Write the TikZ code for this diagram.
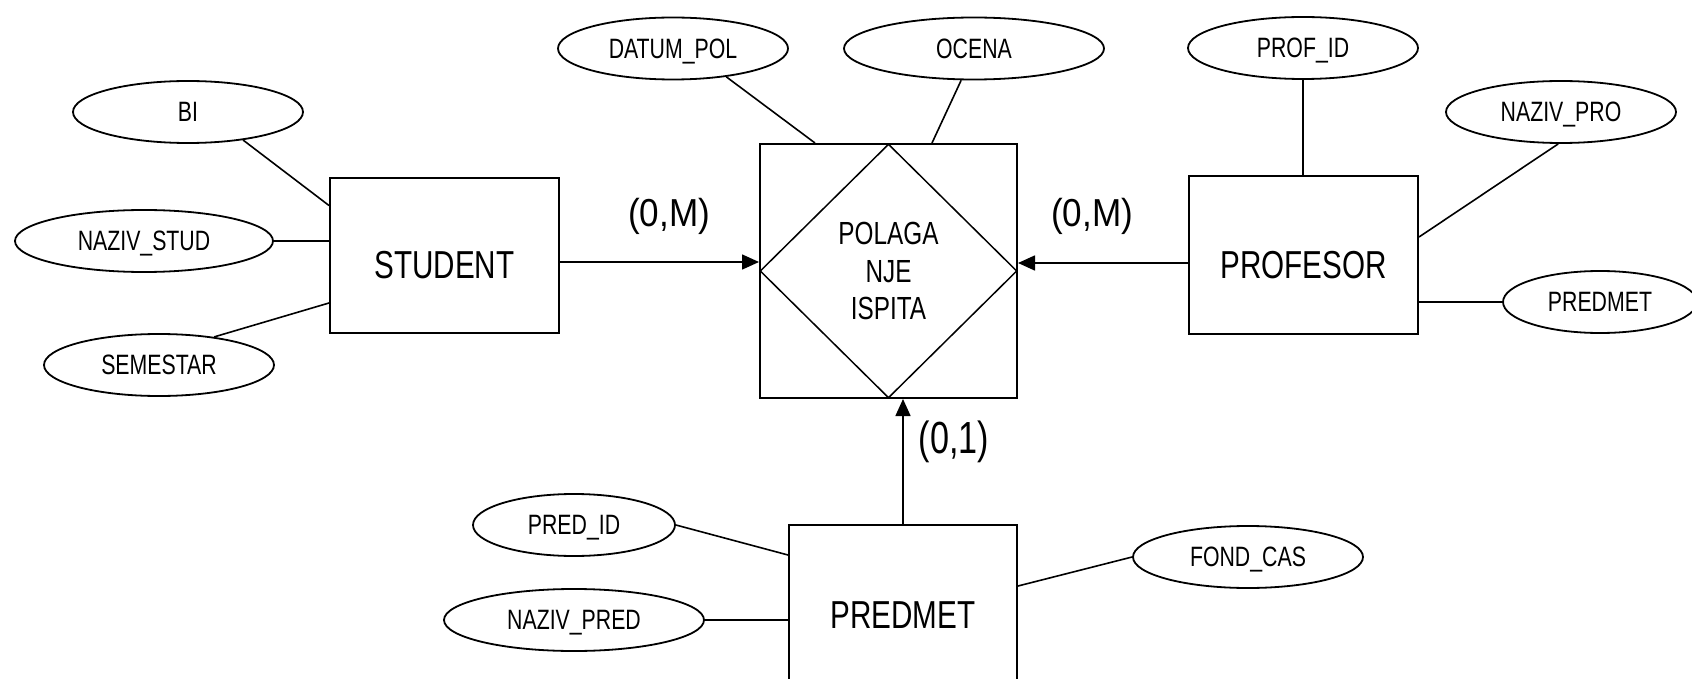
\documentclass[tikz,border=0pt]{standalone}
\usepackage{fontspec}
\usetikzlibrary{shapes.geometric,arrows.meta}
\newfontfamily\erfont[FakeStretch=0.76]{Liberation Sans}
\newfontfamily\cardfont[FakeStretch=0.9]{Liberation Sans}

\begin{document}
\begin{tikzpicture}[x=1pt,y=-1pt,
  attr/.style={ellipse,draw,line width=1.8pt,fill=white,inner sep=0pt,
    minimum height=62pt,text depth=0pt,
    font=\erfont\fontsize{28}{32}\selectfont},
  entity/.style={rectangle,draw,line width=2pt,inner sep=0pt,fill=white},
  enttext/.style={font=\erfont\fontsize{39}{44}\selectfont},
  link/.style={line width=1.6pt},
  rel/.style={line width=1.6pt,-{Triangle[length=17pt,width=15pt]}},
  card/.style={font=\cardfont\fontsize{39}{44}\selectfont,inner sep=0pt},
]
\useasboundingbox (0,0) rectangle (1692,679);
\fill[white] (0,0) rectangle (1692,679);
\clip (0,0) rectangle (1692,679);

% relationship: square with inscribed diamond
\node[entity,minimum width=257pt,minimum height=254pt] (relbox) at (888.5,271) {};
\node[diamond,draw,line width=1.5pt,minimum width=257pt,minimum height=254pt,
  inner sep=0pt,align=center,text depth=0pt,
  font=\erfont\fontsize{32}{37.5}\selectfont] (rel) at (888.5,271) {POLAGA\\NJE\\ISPITA};

% entities
\node[entity,minimum width=229pt,minimum height=155pt,
  label={[enttext,yshift=-9.5pt]center:STUDENT}] (stud) at (444.5,255.5) {};
\node[entity,minimum width=229pt,minimum height=158pt,
  label={[enttext,yshift=-10pt]center:PROFESOR}] (prof) at (1303.5,255) {};
\node[entity,minimum width=228pt,minimum height=200pt,
  label={[enttext,yshift=10pt]center:PREDMET}] (pred) at (903,625) {};

% attributes
\node[attr,minimum width=230pt] (bi)     at (188,112)  {BI};
\node[attr,minimum width=258pt] (nstud)  at (144,241)  {NAZIV\_STUD};
\node[attr,minimum width=230pt] (sem)    at (159,365)  {SEMESTAR};
\node[attr,minimum width=230pt] (datum)  at (673,48.5) {DATUM\_POL};
\node[attr,minimum width=260pt] (ocena)  at (974,48.5) {OCENA};
\node[attr,minimum width=230pt] (profid) at (1303,48)  {PROF\_ID};
\node[attr,minimum width=230pt] (npro)   at (1561,112) {NAZIV\_PRO};
\node[attr,minimum width=194pt] (predm)  at (1600,302) {PREDMET};
\node[attr,minimum width=202pt] (predid) at (574,525)  {PRED\_ID};
\node[attr,minimum width=260pt] (npred)  at (574,620)  {NAZIV\_PRED};
\node[attr,minimum width=230pt] (fond)   at (1248,557) {FOND\_CAS};

% attribute links
\draw[link] (bi.-27) -- ([yshift=50pt]stud.west);
\draw[link] (nstud.east) -- (nstud.east -| stud.west);
\draw[link] (sem.27) -- ([yshift=-47.5pt]stud.west);
\draw[link] (datum.-28.5) -- ([xshift=-73.5pt]relbox.north);
\draw[link] (ocena.-112.7) -- ([xshift=43.5pt]relbox.north);
\draw[link] (profid.south) -- (profid.south |- prof.north);
\draw[link] (npro.-95) -- ([yshift=18pt]prof.east);
\draw[link] ([yshift=-47pt]prof.east) coordinate (p1) -- (p1 -| predm.west);
\draw[link] (predid.east) -- ([yshift=-31pt]pred.north west);
\draw[link] (npred.east) -- (npred.east -| pred.west);
\draw[link] ([yshift=-62pt]pred.north east) -- (fond.west);

% relationship arrows with cardinalities
\draw[rel] ([yshift=-6.5pt]stud.east) coordinate (s1) -- (s1 -| relbox.west);
\draw[rel] ([yshift=-8pt]prof.west) coordinate (s2) -- (s2 -| relbox.east);
\draw[rel] (pred.north) -- (pred.north |- relbox.south);

\node[card] (c1) at (669,216) {(0,M)};
\node[card] (c2) at (1092,216) {(0,M)};
\node[card,font=\erfont\fontsize{45}{50}\selectfont] (c3) at (954,442) {(0,1)};
\end{tikzpicture}
\end{document}
